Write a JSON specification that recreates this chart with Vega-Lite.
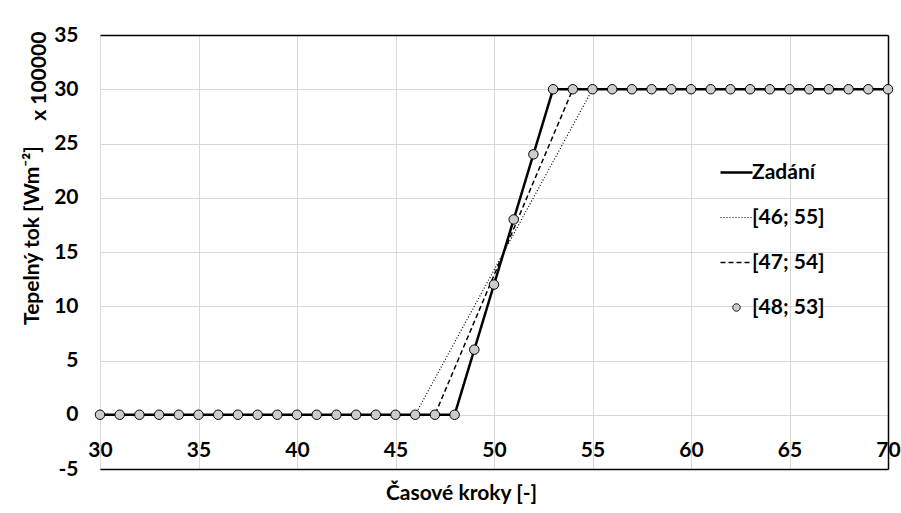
{
  "$schema": "https://vega.github.io/schema/vega-lite/v6.json",
  "width": 788,
  "height": 434,
  "autosize": "none",
  "padding": {"left": 100, "top": 35, "right": 13, "bottom": 44},
  "background": "white",
  "config": {
    "view": {"stroke": null},
    "font": "Lato",
    "axis": {"labelFont": "Lato", "titleFont": "Lato", "labelFontWeight": "bold", "titleFontWeight": "bold", "labelColor": "black", "titleColor": "black", "labelFontSize": 21, "titleFontSize": 21}
  },
  "datasets": {
    "lines": [
      {"series": "Zadání", "step": 30, "value": 0},
      {"series": "Zadání", "step": 48, "value": 0},
      {"series": "Zadání", "step": 53, "value": 30},
      {"series": "Zadání", "step": 70, "value": 30},
      {"series": "[46; 55]", "step": 30, "value": 0},
      {"series": "[46; 55]", "step": 46, "value": 0},
      {"series": "[46; 55]", "step": 55, "value": 30},
      {"series": "[46; 55]", "step": 70, "value": 30},
      {"series": "[47; 54]", "step": 30, "value": 0},
      {"series": "[47; 54]", "step": 47, "value": 0},
      {"series": "[47; 54]", "step": 54, "value": 30},
      {"series": "[47; 54]", "step": 70, "value": 30}
    ],
    "pts": [
      {"series": "[48; 53]", "step": 30, "value": 0},
      {"series": "[48; 53]", "step": 31, "value": 0},
      {"series": "[48; 53]", "step": 32, "value": 0},
      {"series": "[48; 53]", "step": 33, "value": 0},
      {"series": "[48; 53]", "step": 34, "value": 0},
      {"series": "[48; 53]", "step": 35, "value": 0},
      {"series": "[48; 53]", "step": 36, "value": 0},
      {"series": "[48; 53]", "step": 37, "value": 0},
      {"series": "[48; 53]", "step": 38, "value": 0},
      {"series": "[48; 53]", "step": 39, "value": 0},
      {"series": "[48; 53]", "step": 40, "value": 0},
      {"series": "[48; 53]", "step": 41, "value": 0},
      {"series": "[48; 53]", "step": 42, "value": 0},
      {"series": "[48; 53]", "step": 43, "value": 0},
      {"series": "[48; 53]", "step": 44, "value": 0},
      {"series": "[48; 53]", "step": 45, "value": 0},
      {"series": "[48; 53]", "step": 46, "value": 0},
      {"series": "[48; 53]", "step": 47, "value": 0},
      {"series": "[48; 53]", "step": 48, "value": 0},
      {"series": "[48; 53]", "step": 49, "value": 6},
      {"series": "[48; 53]", "step": 50, "value": 12},
      {"series": "[48; 53]", "step": 51, "value": 18},
      {"series": "[48; 53]", "step": 52, "value": 24},
      {"series": "[48; 53]", "step": 53, "value": 30},
      {"series": "[48; 53]", "step": 54, "value": 30},
      {"series": "[48; 53]", "step": 55, "value": 30},
      {"series": "[48; 53]", "step": 56, "value": 30},
      {"series": "[48; 53]", "step": 57, "value": 30},
      {"series": "[48; 53]", "step": 58, "value": 30},
      {"series": "[48; 53]", "step": 59, "value": 30},
      {"series": "[48; 53]", "step": 60, "value": 30},
      {"series": "[48; 53]", "step": 61, "value": 30},
      {"series": "[48; 53]", "step": 62, "value": 30},
      {"series": "[48; 53]", "step": 63, "value": 30},
      {"series": "[48; 53]", "step": 64, "value": 30},
      {"series": "[48; 53]", "step": 65, "value": 30},
      {"series": "[48; 53]", "step": 66, "value": 30},
      {"series": "[48; 53]", "step": 67, "value": 30},
      {"series": "[48; 53]", "step": 68, "value": 30},
      {"series": "[48; 53]", "step": 69, "value": 30},
      {"series": "[48; 53]", "step": 70, "value": 30}
    ]
  },
  "resolve": {"axis": {"x": "independent", "y": "independent"}},
  "layer": [
    {
      "data": {"name": "lines"},
      "mark": {"type": "line", "color": "black"},
      "encoding": {
        "x": {
          "field": "step", "type": "quantitative",
          "scale": {"domain": [30, 70], "nice": false, "zero": false},
          "axis": {
            "values": [30, 35, 40, 45, 50, 55, 60, 65, 70],
            "domain": true, "domainColor": "black", "domainWidth": 1.5,
            "ticks": false, "tickSize": 0,
            "grid": true, "gridColor": "#d9d9d9", "gridWidth": 1,
            "labelPadding": -19, "labelBaseline": "middle", "labelFlush": false,
            "title": "Časové kroky [-]", "titleX": 361, "titleY": 24, "titleBaseline": "middle", "titleAnchor": null, "titleAlign": "center"
          }
        },
        "y": {
          "field": "value", "type": "quantitative",
          "scale": {"domain": [-5, 35], "nice": false, "zero": false},
          "axis": {
            "values": [-5, 0, 5, 10, 15, 20, 25, 30, 35],
            "labelExpr": "toString(datum.value)",
            "domain": false, "ticks": false, "tickSize": 0,
            "grid": true, "gridColor": "#d9d9d9", "gridWidth": 1,
            "labelPadding": 22, "labelFlush": false,
            "title": "Tepelný tok [Wm⁻²]", "titleAngle": 270, "titleX": -68, "titleY": 200, "titleBaseline": "middle", "titleAlign": "center", "titleAnchor": null
          }
        },
        "strokeDash": {
          "field": "series", "type": "nominal",
          "scale": {"domain": ["Zadání", "[46; 55]", "[47; 54]", "[48; 53]"], "range": [[1, 0], [1, 2], [5, 3], [1, 0]]},
          "legend": {
            "title": null, "orient": "none", "legendX": 626, "legendY": 127, "padding": 0,
            "symbolType": "stroke", "symbolSize": 1024, "symbolStrokeColor": "black",
            "labelFont": "Lato", "labelFontSize": 21, "labelFontWeight": "bold", "labelColor": "black",
            "labelOffset": 5, "rowPadding": 23,
            "encode": {
              "symbols": {
                "update": {
                  "shape": {"signal": "datum.value === '[48; 53]' ? 'circle' : 'stroke'"},
                  "size": {"signal": "datum.value === '[48; 53]' ? 55 : 1024"},
                  "strokeWidth": {"signal": "datum.value === 'Zadání' ? 2.5 : (datum.value === '[46; 55]' ? 1 : (datum.value === '[47; 54]' ? 1.5 : 1))"},
                  "fill": {"signal": "datum.value === '[48; 53]' ? '#cccccc' : 'transparent'"},
                  "stroke": {"value": "black"}
                }
              }
            }
          }
        },
        "strokeWidth": {
          "condition": [
            {"test": "datum.series === 'Zadání'", "value": 2.5},
            {"test": "datum.series === '[46; 55]'", "value": 1.2}
          ],
          "value": 1.5
        }
      }
    },
    {
      "data": {"name": "pts"},
      "mark": {"type": "point", "shape": "circle", "filled": true, "fill": "#cccccc", "stroke": "black", "strokeWidth": 1, "size": 90, "opacity": 1},
      "encoding": {
        "x": {"field": "step", "type": "quantitative", "axis": null},
        "y": {"field": "value", "type": "quantitative", "axis": null}
      }
    },
    {
      "data": {"values": [{}]},
      "mark": {"type": "text", "angle": 270, "font": "Lato", "fontSize": 21, "fontWeight": "bold", "color": "black", "align": "center", "baseline": "middle"},
      "encoding": {
        "x": {"datum": 26.95, "type": "quantitative", "axis": {"orient": "top", "labels": false, "ticks": false, "grid": false, "domain": true, "domainColor": "black", "domainWidth": 1.5, "title": null}},
        "y": {"datum": 31.2, "type": "quantitative", "axis": {"orient": "right", "labels": false, "ticks": false, "grid": false, "domain": true, "domainColor": "black", "domainWidth": 1.5, "title": null}},
        "text": {"value": "x 100000"}
      }
    }
  ]
}
